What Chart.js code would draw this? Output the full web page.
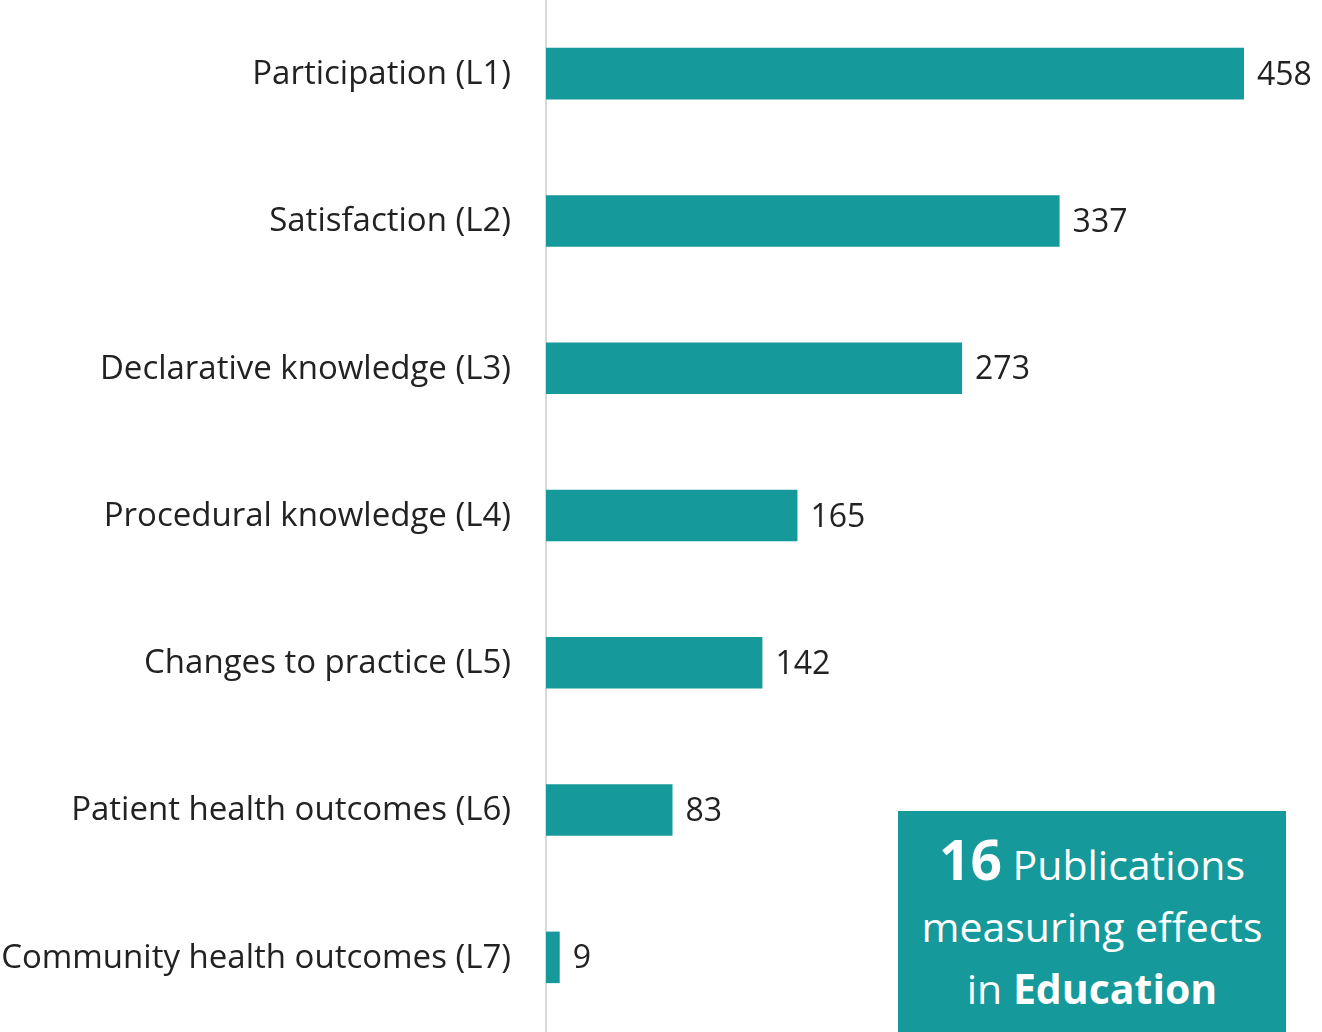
<!DOCTYPE html>
<html>
<head>
<meta charset="utf-8">
<script src="https://cdn.jsdelivr.net/npm/chart.js@4.4.1/dist/chart.umd.min.js"></script>
<style>
  html, body { margin: 0; padding: 0; background: #ffffff; }
  #wrap { position: relative; width: 1322px; height: 1032px; overflow: hidden; }
  #c { position: absolute; left: 0; top: 0; }
  #box {
    position: absolute; left: 898px; top: 811px; width: 388px; height: 221px;
    background: #16999a; color: #ffffff; font-family: "Open Sans", sans-serif;
    text-align: center; font-size: 41px; line-height: 62px; box-sizing: border-box; padding-top: 17px;
  }
  #box b { font-weight: 700; }
  #box .big { font-size: 55px; }
</style>
</head>
<body>
<div id="wrap">
  <canvas id="c" width="1322" height="1032"></canvas>
  <div id="box"><b class="big">16</b> Publications<br>measuring effects<br>in <b>Education</b></div>
</div>
<script>
const categories = [
  "Participation (L1)",
  "Satisfaction (L2)",
  "Declarative knowledge (L3)",
  "Procedural knowledge (L4)",
  "Changes to practice (L5)",
  "Patient health outcomes (L6)",
  "Community health outcomes (L7)"
];
const publications = [458, 337, 273, 165, 142, 83, 9];

const TEAL = '#16999a';
const TEXT = '#222222';
const FONT = '"Open Sans", sans-serif';

const valueLabels = {
  id: 'valueLabels',
  afterDatasetsDraw(chart) {
    const ctx = chart.ctx;
    const meta = chart.getDatasetMeta(0);
    ctx.save();
    ctx.font = '32px ' + FONT;
    ctx.fillStyle = TEXT;
    ctx.textAlign = 'left';
    ctx.textBaseline = 'middle';
    meta.data.forEach((bar, i) => {
      ctx.fillText(String(chart.data.datasets[0].data[i]), bar.x + 13, bar.y + 2);
    });
    ctx.restore();
  }
};

new Chart(document.getElementById('c'), {
  type: 'bar',
  data: {
    labels: categories,
    datasets: [{
      data: publications,
      backgroundColor: TEAL,
      borderWidth: 0,
      categoryPercentage: 1,
      barPercentage: 0.35
    }]
  },
  options: {
    indexAxis: 'y',
    responsive: false,
    animation: false,
    layout: { padding: { top: 0, bottom: 1, right: 14, left: 0 } },
    plugins: { legend: { display: false }, tooltip: { enabled: false } },
    scales: {
      x: {
        display: false,
        min: 0,
        max: 500
      },
      y: {
        afterFit(scale) {
          scale.width = 546;
          scale.paddingTop = 0;
          scale.paddingBottom = 0;
        },
        grid: { display: false, drawTicks: false },
        border: { display: true, color: '#d9d9d9', width: 2 },
        ticks: {
          color: TEXT,
          padding: 35,
          labelOffset: 1,
          font: { family: FONT, size: 33 }
        }
      }
    }
  },
  plugins: [valueLabels]
});
</script>
</body>
</html>
